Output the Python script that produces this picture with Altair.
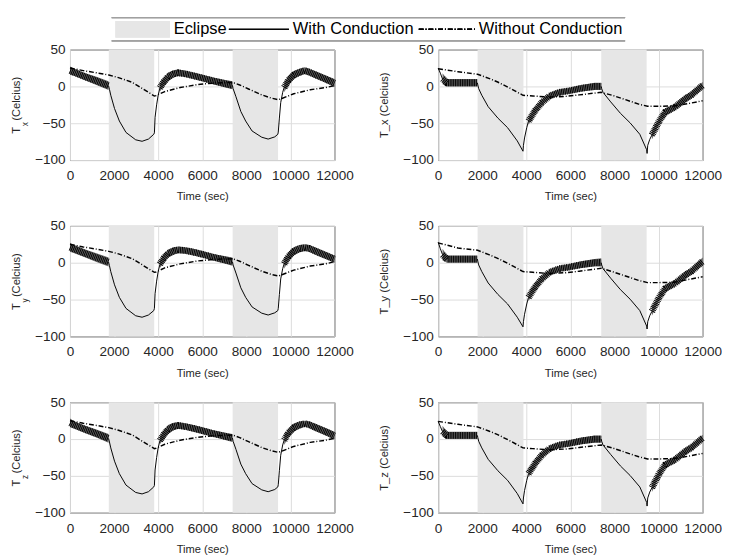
import altair as alt
import pandas as pd

# ---------------- data ----------------
X_TICKS = [0, 2000, 4000, 6000, 8000, 10000, 12000]
Y_TICKS = [-100, -50, 0, 50]
SERIES = ["Eclipse", "With Conduction", "Without Conduction"]

ECL_L_START = [1760, 7380]
ECL_L_END = [3820, 9440]
ECL_R_START = [1790, 7400]
ECL_R_END = [3870, 9460]

# ---- left column: non-oscillating parts of "With Conduction" ----
L_with_seg = ["1"] * 15 + ["2"] * 15
L_with_t = [1750, 1790, 1850, 2020, 2240, 2540, 2980, 3270, 3560, 3800, 3830, 3860, 3930, 4000, 4080,
            7370, 7400, 7530, 7750, 7970, 8260, 8700, 8990, 9290, 9430, 9450, 9500, 9560, 9650, 9720]
LX_with_v = [1, -4, -12, -30, -47, -62.5, -72.5, -74.5, -71.5, -65, -63, -42, -25, -12, -2,
             1.5, -3, -14, -34, -47, -60.5, -69, -71.5, -68.5, -65, -62, -43, -22, -8, -1]
LY_with_v = [1, -4, -12, -30, -47, -62, -72, -74, -71, -65, -62, -42, -25, -12, -2,
             1.5, -3, -14, -34, -47, -60, -68.5, -71, -68, -65, -62, -43, -22, -8, -1]
LZ_with_v = [1, -4, -12, -30, -47, -62.5, -72.5, -74.5, -71.5, -65, -63, -42, -25, -12, -2,
             1.5, -3, -14, -34, -47, -60.5, -69, -71.5, -68.5, -65, -62, -43, -22, -8, -1]

# ---- left column: oscillating envelope (lower / upper) ----
L_band_seg = ["a"] * 5 + ["b"] * 11 + ["c"] * 9
L_band_t = [0, 200, 700, 1200, 1750,
            4080, 4250, 4450, 4700, 4900, 5200, 5600, 6000, 6500, 7000, 7370,
            9720, 9900, 10150, 10400, 10650, 10850, 11200, 11600, 12000]
LX_band_lo = [16, 14, 8, 2, -5,
              -7, 0, 7, 12, 14, 13, 10, 7, 3, -1, -4,
              -8, 2, 10, 14, 17, 15, 10, 5, -1]
LX_band_hi = [27, 24, 18, 13, 7,
              3, 12, 19, 22, 23, 21.5, 19, 16, 12, 9, 7,
              5, 14, 21, 24, 26, 24, 20, 15, 10]
LY_band_lo = [15, 13, 7, 1, -5,
              -7, 0, 7, 11, 13, 12.5, 10, 7, 3, -1, -4,
              -8, 2, 10, 14, 16, 15, 10, 5, 0]
LY_band_hi = [27, 24, 18, 13, 7,
              3, 12, 18, 21, 22, 21, 19, 16, 12, 9, 7,
              5, 14, 21, 24, 25, 24, 20, 15, 10]
LZ_band_lo = [16, 14, 8, 2, -5,
              -7, 0, 7, 12, 14, 13, 10, 7, 3, -1, -4,
              -8, 2, 10, 14, 17, 15, 10, 5, -1]
LZ_band_hi = [28, 24, 18, 13, 7,
              3, 12, 19, 22, 23, 21.5, 19, 16, 12, 9, 7,
              5, 14, 21, 24, 25, 24, 20, 15, 10]

# ---- left column: "Without Conduction" ----
L_without_t = [0, 600, 1200, 1760, 2200, 2830, 3420, 3830, 3900, 4300, 5000, 5800, 6500, 7380,
               7700, 8100, 8700, 9150, 9450, 9600, 10150, 10900, 11600, 12000]
LX_without_v = [25, 21.5, 18.5, 15.5, 12, 5.5, -5.5, -13, -12.5, -7, -1.5, 2.5, 4.5, 5.5,
                2, -3.5, -11.5, -16, -18, -16.5, -10, -4.5, -1.5, 1]
LY_without_v = [25, 21.5, 18.5, 15.5, 12, 5.5, -5.5, -13, -12.5, -7, -1.5, 2.5, 4.5, 5.5,
                2, -3.5, -11.5, -16, -18, -16.5, -10, -4.5, -1.5, 1.5]
LZ_without_v = LX_without_v

# ---- right column: non-oscillating parts of "With Conduction" ----
R_with_seg = ["0"] * 3 + ["1"] * 13 + ["2"] * 12
R_with_t = [0, 100, 200,
            1780, 1800, 1840, 1980, 2270, 2710, 3150, 3590, 3850, 3870, 3920, 4020, 4100,
            7400, 7420, 7480, 7830, 8270, 8710, 9150, 9460, 9480, 9510, 9600, 9700]
RX_with_v = [25, 18, 10,
             5, 2, -3, -12, -27.5, -43, -56, -74, -88, -80, -70, -56, -47,
             0, -3, -8, -21, -36.5, -49.5, -65, -86, -91, -80, -72, -66]
RY_with_v = [28, 19, 11,
             5, 2, -3, -12, -27.5, -43, -56, -74, -87, -80, -70, -56, -47,
             0, -3, -8, -21, -36.5, -49.5, -65, -86, -90, -80, -72, -66]
RZ_with_v = [24, 17, 10,
             5, 2, -3, -12, -27.5, -43, -56, -74, -88, -80, -70, -56, -47,
             0, -3, -8, -21, -36.5, -49.5, -65, -86, -91, -80, -72, -66]

# ---- right column: oscillating envelope ----
R_band_seg = ["a"] * 4 + ["b"] * 9 + ["c"] * 7
R_band_t = [200, 400, 1000, 1780,
            4100, 4400, 4700, 5050, 5500, 5930, 6500, 7100, 7400,
            9700, 10020, 10300, 10750, 11200, 11500, 12000]
RX_band_lo = [3, 0, 0, 0,
              -52, -38, -26, -17, -12, -10, -7, -5, -5,
              -72, -52, -40, -32, -22, -16, -3]
RX_band_hi = [18, 10, 10, 10,
              -42, -28, -18, -9, -4, -2, 2, 5, 5,
              -60, -43, -30, -24, -12, -7, 6]
RY_band_lo = RX_band_lo
RY_band_hi = [19, 10, 10, 10,
              -42, -28, -18, -9, -4, -2, 2, 5, 6,
              -60, -43, -30, -24, -12, -7, 7]
RZ_band_lo = RX_band_lo
RZ_band_hi = RX_band_hi

# ---- right column: "Without Conduction" ----
R_without_t = [0, 900, 1790, 2300, 2700, 3300, 3850, 4300, 5000, 5800, 6400, 7400, 7900, 8500,
               9100, 9500, 10000, 10700, 11400, 12000]
RX_without_v = [24, 20, 16.5, 11, 6, -3, -12, -13, -14.5, -13.5, -11.5, -8, -12, -18,
                -24, -27, -27, -26.5, -23, -19.5]
RY_without_v = [27, 20, 17, 11, 6, -3, -12, -13, -14.5, -13.5, -11.5, -7.5, -12, -18,
                -24, -27, -27, -26.5, -22.5, -19]
RZ_without_v = RX_without_v

FONT = "Liberation Sans"
W, H = 273, 114
INK = "#262626"
DASHDOT = [5, 2, 1, 2]

xscale = alt.Scale(domain=[0, 12000], nice=False, zero=False)
yscale = alt.Scale(domain=[-100, 50], nice=False, zero=False)
xaxis = alt.Axis(values=X_TICKS, format="d", title="Time (sec)", grid=True, labelFlush=False,
                 labelOverlap=False, labelBound=False, ticks=False, domain=False)


def yaxis(title):
    return alt.Axis(values=Y_TICKS, format="d", title=title, grid=True, ticks=False, domain=False,
                    labelOverlap=False, labelFlush=False)


def panel(left, with_v, band_lo, band_hi, without_v, title, sub=None):
    if left:
        ecl = pd.DataFrame({"s": ECL_L_START, "e": ECL_L_END})
        dw = pd.DataFrame({"seg": L_with_seg, "t": L_with_t, "v": with_v})
        db = pd.DataFrame({"seg": L_band_seg, "t": L_band_t, "lo": band_lo, "hi": band_hi})
        do = pd.DataFrame({"t": L_without_t, "v": without_v})
    else:
        ecl = pd.DataFrame({"s": ECL_R_START, "e": ECL_R_END})
        dw = pd.DataFrame({"seg": R_with_seg, "t": R_with_t, "v": with_v})
        db = pd.DataFrame({"seg": R_band_seg, "t": R_band_t, "lo": band_lo, "hi": band_hi})
        do = pd.DataFrame({"t": R_without_t, "v": without_v})
    X = lambda f: alt.X(f, scale=xscale, axis=xaxis)
    Y = lambda f: alt.Y(f, scale=yscale, axis=yaxis(title))

    rect = alt.Chart(ecl).mark_rect(color="#e6e6e6").encode(x=X("s:Q"), x2="e:Q")
    band = alt.Chart(db).mark_area(color="black", opacity=0.6).encode(
        x=X("t:Q"), y=Y("lo:Q"), y2="hi:Q", detail="seg:N")
    # texture of the fast oscillation: a thick finely-dashed stroke along the envelope centre
    texture = alt.Chart(db).transform_calculate(mid="(datum.lo + datum.hi) / 2").mark_line(
        color="black", strokeWidth=7, strokeDash=[1, 0.8], strokeCap="butt").encode(
        x=X("t:Q"), y=Y("mid:Q"), detail="seg:N")
    wline = alt.Chart(dw).mark_line(color="black", strokeWidth=1).encode(
        x=X("t:Q"), y=Y("v:Q"), detail="seg:N")
    oline = alt.Chart(do).mark_line(color="black", strokeWidth=1.5, strokeDash=DASHDOT).encode(
        x=X("t:Q"), y=Y("v:Q"))
    layers = [rect, band, texture, wline, oline]
    if sub is not None:
        subtxt = alt.Chart(pd.DataFrame({"s": [sub]})).mark_text(
            angle=270, fontSize=8.5, font=FONT, color=INK).encode(
            text="s:N", x=alt.value(-46), y=alt.value(77))
        layers.append(subtxt)
    return alt.layer(*layers).properties(width=W, height=H)


# ---------------- legend strip (drawn above the panels) ----------------
def legend_strip():
    ln = lambda: alt.Chart(pd.DataFrame({"s": SERIES}))
    top = ln().mark_rule(color="#a0a0a0", strokeWidth=1.5).encode(
        x=alt.value(43), x2=alt.value(573), y=alt.value(0))
    bot = ln().mark_rule(color="#a0a0a0", strokeWidth=1.5).encode(
        x=alt.value(43), x2=alt.value(573), y=alt.value(24))
    box = ln().mark_rect(color="#e6e6e6").encode(
        x=alt.value(47), x2=alt.value(103), y=alt.value(3.5), y2=alt.value(20.5))
    sol = ln().mark_rule(color="black", strokeWidth=1).encode(
        x=alt.value(164), x2=alt.value(226), y=alt.value(12))
    dsh = ln().mark_rule(color="black", strokeWidth=1.5, strokeDash=DASHDOT).encode(
        x=alt.value(360), x2=alt.value(420), y=alt.value(12))
    txt = []
    for name, xpos in zip(SERIES, [107, 230, 422]):
        txt.append(alt.Chart(pd.DataFrame({"s": [name]})).mark_text(
            align="left", baseline="middle", fontSize=17, font=FONT, color="black").encode(
            text="s:N", x=alt.value(xpos), y=alt.value(12)))
    return alt.layer(top, bot, box, sol, dsh, *txt).properties(
        width=600, height=24, view=alt.ViewBackground(strokeOpacity=0))


NB = "\u00a0"
LTITLE = "T" + NB + NB + "(Celcius)"

row1 = alt.hconcat(panel(True, LX_with_v, LX_band_lo, LX_band_hi, LX_without_v, LTITLE, "x"),
                   panel(False, RX_with_v, RX_band_lo, RX_band_hi, RX_without_v, "T_x (Celcius)"), spacing=24)
row2 = alt.hconcat(panel(True, LY_with_v, LY_band_lo, LY_band_hi, LY_without_v, LTITLE, "y"),
                   panel(False, RY_with_v, RY_band_lo, RY_band_hi, RY_without_v, "T_y (Celcius)"), spacing=24)
row3 = alt.hconcat(panel(True, LZ_with_v, LZ_band_lo, LZ_band_hi, LZ_without_v, LTITLE, "z"),
                   panel(False, RZ_with_v, RZ_band_lo, RZ_band_hi, RZ_without_v, "T_z (Celcius)"), spacing=24)

grid = alt.vconcat(row1, row2, row3, spacing=16)

chart = alt.vconcat(legend_strip(), grid, spacing=0).properties(
    padding={"left": 1, "top": 0, "right": 0, "bottom": 0}
).configure(font=FONT).configure_view(
    stroke=INK, strokeWidth=1
).configure_axis(
    labelFont=FONT, labelFontSize=14, labelColor=INK,
    titleFont=FONT, titleFontSize=11.5, titleFontWeight="normal", titleColor=INK,
    gridColor="#dcdcdc", gridWidth=1
).configure_axisX(labelPadding=9, titlePadding=9).configure_axisY(labelPadding=5, titlePadding=14)

chart.save("out.html", embed_options={"renderer": "svg", "actions": False})
